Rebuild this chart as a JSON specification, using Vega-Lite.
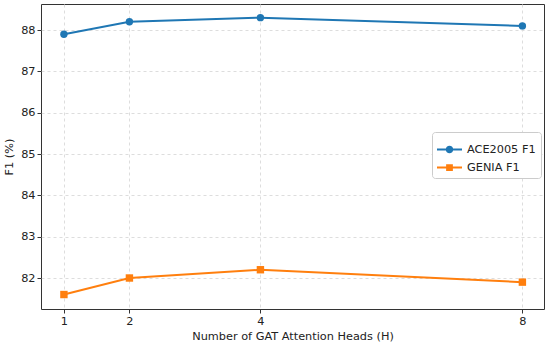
{
  "$schema": "https://vega.github.io/schema/vega-lite/v6.json",
  "width": 503,
  "height": 305,
  "autosize": {"type": "none"},
  "padding": {"left": 41, "top": 4, "right": 6, "bottom": 38},
  "background": "white",
  "config": {
    "font": "DejaVu Sans",
    "view": {"stroke": "#333", "strokeWidth": 1}
  },
  "data": {
    "values": [
      {"H": 1, "F1": 87.9, "series": "ACE2005 F1"},
      {"H": 2, "F1": 88.2, "series": "ACE2005 F1"},
      {"H": 4, "F1": 88.3, "series": "ACE2005 F1"},
      {"H": 8, "F1": 88.1, "series": "ACE2005 F1"},
      {"H": 1, "F1": 81.6, "series": "GENIA F1"},
      {"H": 2, "F1": 82.0, "series": "GENIA F1"},
      {"H": 4, "F1": 82.2, "series": "GENIA F1"},
      {"H": 8, "F1": 81.9, "series": "GENIA F1"}
    ]
  },
  "encoding": {
    "x": {
      "field": "H", "type": "quantitative",
      "scale": {"domain": [0.65, 8.33], "nice": false, "zero": false},
      "axis": {
        "values": [1, 2, 4, 8], "title": "Number of GAT Attention Heads (H)",
        "grid": true, "gridDash": [3, 3], "gridColor": "#ddd",
        "labelFontSize": 11.3, "titleFontSize": 11.3, "titleFontWeight": "normal",
        "labelColor": "#222", "titleColor": "#222", "domain": false,
        "tickColor": "#333", "tickSize": 4, "labelPadding": 2, "titlePadding": 4
      }
    },
    "y": {
      "field": "F1", "type": "quantitative",
      "scale": {"domain": [81.25, 88.63], "nice": false, "zero": false},
      "axis": {
        "values": [82, 83, 84, 85, 86, 87, 88], "title": "F1 (%)",
        "grid": true, "gridDash": [3, 3], "gridColor": "#ddd",
        "labelFontSize": 11.3, "titleFontSize": 11.3, "titleFontWeight": "normal",
        "labelColor": "#222", "titleColor": "#222", "domain": false,
        "tickColor": "#333", "tickSize": 4, "labelPadding": 2, "titlePadding": 6
      }
    },
    "color": {
      "field": "series", "type": "nominal",
      "scale": {"domain": ["ACE2005 F1", "GENIA F1"], "range": ["#1f77b4", "#ff7f0e"]},
      "legend": {
        "title": null, "orient": "none", "legendX": 391, "legendY": 128,
        "fillColor": "white", "strokeColor": "#ccc", "cornerRadius": 3, "padding": 5,
        "labelFontSize": 11.3, "labelColor": "#222",
        "symbolSize": 144, "rowPadding": -2, "labelOffset": 5, "symbolOffset": 0,
        "encode": {
          "symbols": {
            "update": {
              "shape": {"signal": "datum.value === 'ACE2005 F1' ? 'M-1,-0.08 L1,-0.08 L1,0.08 L-1,0.08 Z M-0.3,0 A0.3,0.3 0 1,1 0.3,0 A0.3,0.3 0 1,1 -0.3,0 Z' : 'M-1,-0.08 L1,-0.08 L1,0.08 L-1,0.08 Z M-0.27,-0.27 L0.27,-0.27 L0.27,0.27 L-0.27,0.27 Z'"},
              "size": {"value": 625},
              "fill": {"signal": "scale('color', datum.value)"},
              "fillOpacity": {"value": 1},
              "strokeWidth": {"value": 0}
            }
          }
        }
      }
    }
  },
  "layer": [
    {
      "mark": {"type": "line", "strokeWidth": 2}
    },
    {
      "mark": {"type": "point", "size": 55, "filled": true, "opacity": 1},
      "encoding": {
        "shape": {"condition": {"test": "datum.series === 'GENIA F1'", "value": "square"}, "value": "circle"}
      }
    }
  ]
}
